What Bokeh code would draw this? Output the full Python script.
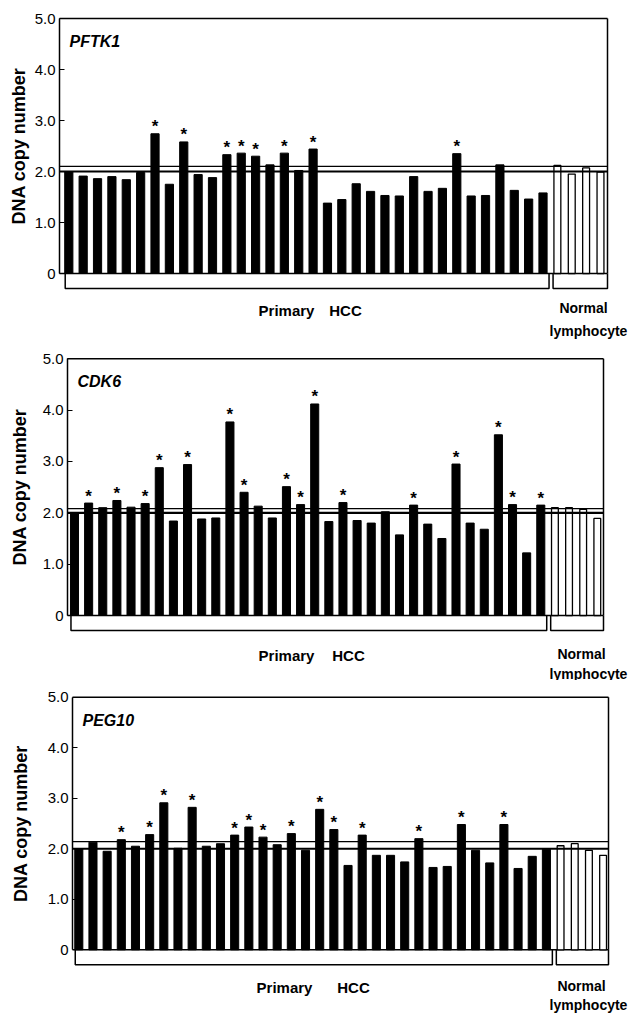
from bokeh.plotting import figure
from bokeh.layouts import column
from bokeh.models import Range1d, FixedTicker
from bokeh.core.properties import value
from bokeh.embed import file_html
from bokeh.resources import INLINE

# ---------------- data ----------------
genes = ["PFTK1", "CDK6", "PEG10"]
hcc_samples = list(range(1, 35))
normal_samples = [35, 36, 37, 38]

pftk1_hcc = [2.00, 1.91, 1.86, 1.90, 1.84, 1.98, 2.74, 1.75, 2.58, 1.94,
             1.88, 2.33, 2.36, 2.30, 2.13, 2.36, 2.02, 2.44, 1.38, 1.45,
             1.76, 1.61, 1.53, 1.52, 1.90, 1.61, 1.67, 2.35, 1.52, 1.53,
             2.13, 1.63, 1.46, 1.58]
pftk1_normal = [2.12, 1.95, 2.07, 1.99]
pftk1_stars = [7, 9, 12, 13, 14, 16, 18, 28]

cdk6_hcc = [1.98, 2.19, 2.10, 2.24, 2.11, 2.18, 2.88, 1.84, 2.94, 1.88,
            1.90, 3.77, 2.40, 2.13, 1.90, 2.51, 2.16, 4.12, 1.83, 2.20,
            1.85, 1.80, 2.02, 1.57, 2.15, 1.78, 1.50, 2.95, 1.80, 1.68,
            3.52, 2.16, 1.22, 2.15]
cdk6_normal = [2.10, 2.10, 2.07, 1.89]
cdk6_stars = [2, 4, 6, 7, 9, 12, 13, 16, 17, 18, 20, 25, 28, 31, 32, 34]

peg10_hcc = [2.00, 2.13, 1.95, 2.18, 2.05, 2.28, 2.91, 2.01, 2.82, 2.05,
             2.10, 2.27, 2.43, 2.23, 2.08, 2.30, 1.97, 2.78, 2.38, 1.67,
             2.27, 1.87, 1.87, 1.74, 2.20, 1.63, 1.65, 2.48, 1.97, 1.72,
             2.48, 1.61, 1.85, 1.99]
peg10_normal = [2.06, 2.10, 1.97, 1.87]
peg10_stars = [4, 6, 7, 9, 12, 13, 14, 16, 18, 19, 21, 25, 28, 31]

cutoff_lower = [2.0, 2.0, 2.0]
cutoff_upper = [2.10, 2.08, 2.14]

y_ticks = [0, 1, 2, 3, 4, 5]
y_tick_labels = ["0", "1.0", "2.0", "3.0", "4.0", "5.0"]
y_title = "DNA copy number"
group_labels = ["Primary", "HCC", "Normal", "lymphocyte"]

# ---------------- layout (pixels inside each figure) ----------------
W = 631
geoms = [
    dict(h=340, top=18.0, zero=273.0, left=59, right=607, first=68.3, pitch=14.37,
         off=(37, 34, 57), lab_px=(286, 345, 583, 588), title_gap=3),
    dict(h=340, top=18.3, zero=275.0, left=67, right=603, first=74.0, pitch=14.13,
         off=(40, 38, 58), lab_px=(286, 348, 581, 588), title_gap=10),
    dict(h=334, top=16.7, zero=269.3, left=72, right=608, first=78.3, pitch=14.17,
         off=(38, 36, 55), lab_px=(284, 353, 581, 588), title_gap=14),
]
FONT = value("Liberation Sans")


def make_panel(gene, hcc_vals, normal_vals, stars, lower, upper, g):
    s = (g["zero"] - g["top"]) / 5.0
    y0 = -(g["h"] - g["zero"]) / s
    y1 = 5.0 + g["top"] / s
    slot = lambda px: 1 + (px - g["first"]) / g["pitch"]
    x0 = slot(g["left"])
    xr = slot(g["right"])

    p = figure(width=W, height=g["h"], x_range=Range1d(slot(0), slot(W)),
               y_range=Range1d(y0, y1),
               output_backend="svg", toolbar_location=None, x_axis_location=None,
               min_border_left=0, min_border_right=0,
               min_border_top=0, min_border_bottom=0)
    p.outline_line_color = None
    p.grid.grid_line_color = None
    p.background_fill_color = "white"
    p.border_fill_color = "white"

    ax = p.yaxis[0]
    ax.fixed_location = x0
    ax.ticker = FixedTicker(ticks=y_ticks)
    ax.major_label_overrides = {t: l for t, l in zip(y_ticks, y_tick_labels)}
    ax.bounds = (0, 5)
    ax.axis_label = y_title
    ax.axis_label_text_font = "Liberation Sans"
    ax.axis_label_text_font_style = "bold"
    ax.axis_label_text_font_size = "18px"
    ax.axis_label_text_color = "black"
    ax.axis_label_standoff = g["title_gap"]
    ax.major_label_text_font = "Liberation Sans"
    ax.major_label_text_font_size = "15px"
    ax.major_label_text_color = "black"
    ax.major_label_standoff = 4
    ax.major_tick_in = 5
    ax.major_tick_out = 0
    ax.minor_tick_in = 0
    ax.minor_tick_out = 0
    ax.axis_line_width = 1.5
    ax.axis_line_color = "black"
    ax.major_tick_line_color = "black"

    # frame (top, right, bottom)
    p.segment(x0=[x0, xr, x0], y0=[5, 0, 0], x1=[xr, xr, xr], y1=[5, 5, 0],
              line_color="black", line_width=1.5)

    # bars
    p.vbar(x=hcc_samples, top=hcc_vals, bottom=0, width=0.57,
           fill_color="black", line_color="black", line_width=1)
    p.vbar(x=normal_samples, top=normal_vals, bottom=0, width=0.48,
           fill_color="white", line_color="black", line_width=1.3)

    # cutoff lines
    p.segment(x0=[x0], y0=[lower], x1=[xr], y1=[lower], line_color="black", line_width=2.2)
    p.segment(x0=[x0], y0=[upper], x1=[xr], y1=[upper], line_color="black", line_width=1.3)

    # stars
    p.text(x=stars, y=[hcc_vals[i - 1] for i in stars], text=["*"] * len(stars),
           text_font=FONT, text_font_style="bold", text_font_size="17px",
           text_align="center", text_baseline="middle", y_offset=-7, text_color="black")

    # gene name
    p.text(x=[x0], y=[5], text=[gene], x_offset=10, y_offset=23,
           text_font=FONT, text_font_style="bold italic", text_font_size="16px",
           text_align="left", text_baseline="alphabetic", text_color="black")

    # brackets
    d = -15.0 / s
    p.multi_line(xs=[[0.75, 0.75, 34.42, 34.42], [34.7, 34.7, xr, xr]],
                 ys=[[0, d, d, 0], [0, d, d, 0]], line_color="black", line_width=1.5)

    # group labels
    o = g["off"]
    lxs = [slot(v) for v in g["lab_px"]]
    p.text(x=lxs[:2], y=[0, 0], text=group_labels[:2], y_offset=o[0],
           text_font=FONT, text_font_style="bold", text_font_size="15px",
           text_align="center", text_baseline="alphabetic", text_color="black")
    p.text(x=[lxs[2]], y=[0], text=[group_labels[2]], y_offset=o[1],
           text_font=FONT, text_font_style="bold", text_font_size="14px",
           text_align="center", text_baseline="alphabetic", text_color="black")
    p.text(x=[lxs[3]], y=[0], text=[group_labels[3]], y_offset=o[2],
           text_font=FONT, text_font_style="bold", text_font_size="14px",
           text_align="center", text_baseline="alphabetic", text_color="black")
    return p


panels = [
    make_panel(genes[0], pftk1_hcc, pftk1_normal, pftk1_stars, cutoff_lower[0], cutoff_upper[0], geoms[0]),
    make_panel(genes[1], cdk6_hcc, cdk6_normal, cdk6_stars, cutoff_lower[1], cutoff_upper[1], geoms[1]),
    make_panel(genes[2], peg10_hcc, peg10_normal, peg10_stars, cutoff_lower[2], cutoff_upper[2], geoms[2]),
]

layout = column(*panels, spacing=0)
open("out.html", "w").write(file_html(layout, INLINE))
